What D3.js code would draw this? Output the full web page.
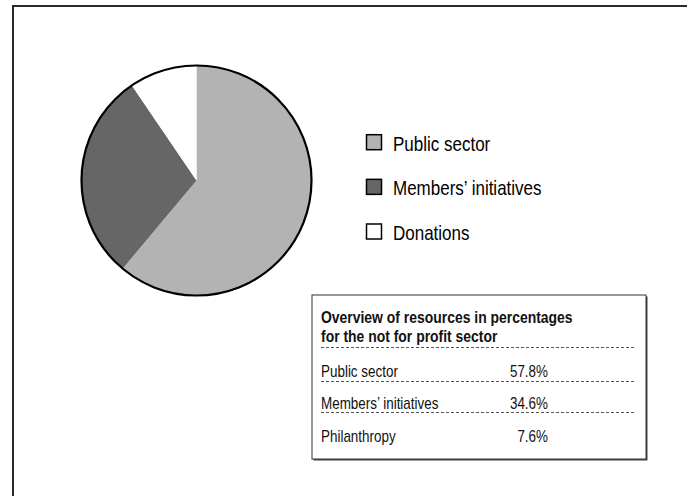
<!DOCTYPE html>
<html>
<head>
<meta charset="utf-8">
<script src="https://cdn.jsdelivr.net/npm/d3@7"></script>
<style>
  html, body { margin: 0; padding: 0; background: #fff; }
  svg { display: block; }
  text { font-family: "Liberation Sans", Arial, sans-serif; }
</style>
</head>
<body>
<svg id="chart" width="687" height="496"></svg>
<script>
// Pie shares as drawn in the picture (percent of circle)
const categories = ["Public sector", "Members\u2019 initiatives", "Donations"];
const pieValues = [61.1, 29.4, 9.5];
const colors = ["#b3b3b3", "#666666", "#ffffff"];

// Overview table
const tableTitle = ["Overview of resources in percentages", "for the not for profit sector"];
const tableRows = ["Public sector", "Members\u2019 initiatives", "Philanthropy"];
const tableValues = ["57.8%", "34.6%", "7.6%"];

const svg = d3.select("#chart");

function narrowText(parent, x, y, str, size, opts = {}) {
  const sx = opts.scale || 0.84;
  const g = parent.append("g").attr("transform", `translate(${x},${y}) scale(${sx},1)`);
  const t = g.append("text").attr("x", 0).attr("y", 0)
    .attr("font-size", size).attr("fill", opts.fill || "#000")
    .text(str);
  if (opts.weight) t.attr("font-weight", opts.weight);
  if (opts.anchor) t.attr("text-anchor", opts.anchor);
  return t;
}

// outer frame (extends past the visible area on right and bottom)
svg.append("rect")
  .attr("x", 13).attr("y", 6)
  .attr("width", 760).attr("height", 560)
  .attr("fill", "none").attr("stroke", "#2a2a2a").attr("stroke-width", 2);

// pie
const cx = 196.5, cy = 180.5, r = 115;
const pie = d3.pie().sort(null).value(d => d)(pieValues);
const arc = d3.arc().innerRadius(0).outerRadius(r);
const g = svg.append("g").attr("transform", `translate(${cx},${cy})`);
g.selectAll("path.slice").data(pie).join("path")
  .attr("class", "slice")
  .attr("d", arc)
  .attr("fill", (d, i) => colors[i]);
g.append("circle").attr("r", r).attr("fill", "none")
  .attr("stroke", "#000").attr("stroke-width", 2.2);

// legend
const legY = d3.scalePoint().domain(categories).range([150.7, 240]);
const leg = svg.append("g");
categories.forEach((c, i) => {
  const y = legY(c);
  leg.append("rect")
    .attr("x", 366.5).attr("y", y - 16)
    .attr("width", 15).attr("height", 15)
    .attr("fill", colors[i]).attr("stroke", "#000").attr("stroke-width", 1.5);
  narrowText(leg, 393, y, c, 20, { fill: "#000", scale: 0.85 });
});

// table box
const bx = 312, by = 295, bw = 334, bh = 164;
svg.append("rect")
  .attr("x", bx + 1.5).attr("y", by + 1.5).attr("width", bw).attr("height", bh)
  .attr("fill", "#444");
svg.append("rect")
  .attr("x", bx).attr("y", by).attr("width", bw).attr("height", bh)
  .attr("fill", "#fff").attr("stroke", "#333").attr("stroke-width", 1);

const tb = svg.append("g");
const tx = 321, valRight = 548, dashRight = 636;
narrowText(tb, tx, 323, tableTitle[0], 17, { weight: "bold", fill: "#111", scale: 0.82 });
narrowText(tb, tx, 341.5, tableTitle[1], 17, { weight: "bold", fill: "#111", scale: 0.82 });

const rowY = d3.scalePoint().domain(tableRows).range([376.7, 441.7]);
const dashYs = [347.5, 381.5, 412.5];
dashYs.forEach(y => {
  tb.append("line")
    .attr("x1", tx).attr("x2", dashRight).attr("y1", y).attr("y2", y)
    .attr("stroke", "#555").attr("stroke-width", 1).attr("stroke-dasharray", "3,2");
});
tableRows.forEach((rname, i) => {
  const y = rowY(rname);
  narrowText(tb, tx, y, rname, 16, { fill: "#111" });
  narrowText(tb, valRight, y, tableValues[i], 16, { fill: "#111", anchor: "end" });
});
</script>
</body>
</html>
